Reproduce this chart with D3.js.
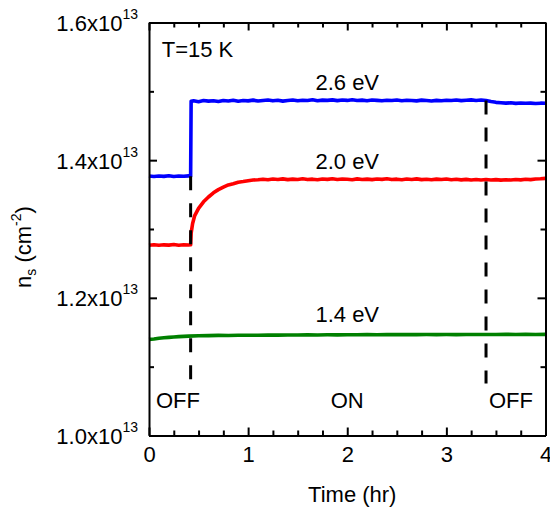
<!DOCTYPE html>
<html>
<head>
<meta charset="utf-8">
<script src="https://cdn.jsdelivr.net/npm/d3@7"></script>
<style>
  html, body { margin: 0; padding: 0; background: #fff; }
  svg { display: block; font-family: "Liberation Sans", Arial, sans-serif; }
</style>
</head>
<body>
<svg id="chart" width="550" height="508"></svg>
<script>
// Sheet carrier density n_s (units of 1e13 cm^-2) vs. illumination time, T = 15 K
const blue26 = [
  [0,1.3770],[0.05,1.3762],[0.1,1.3771],[0.15,1.3765],[0.2,1.3774],[0.25,1.3763],[0.3,1.3769],[0.35,1.3766],[0.4,1.3772],[0.42,1.3765],
  [0.425,1.4855],[0.45,1.4862],[0.5,1.4850],[0.55,1.4866],[0.6,1.4858],[0.65,1.4864],[0.7,1.4852],[0.75,1.4867],[0.8,1.4860],[0.85,1.4871],
  [0.9,1.4857],[0.95,1.4866],[1.0,1.4861],[1.05,1.4872],[1.1,1.4859],[1.15,1.4868],[1.2,1.4874],[1.25,1.4862],[1.3,1.4870],[1.35,1.4858],
  [1.4,1.4866],[1.45,1.4875],[1.5,1.4863],[1.55,1.4871],[1.6,1.4867],[1.65,1.4878],[1.7,1.4864],[1.75,1.4872],[1.8,1.4869],[1.85,1.4876],
  [1.9,1.4865],[1.95,1.4873],[2.0,1.4868],[2.05,1.4877],[2.1,1.4866],[2.15,1.4872],[2.2,1.4864],[2.25,1.4874],[2.3,1.4869],[2.35,1.4862],
  [2.4,1.4871],[2.45,1.4866],[2.5,1.4874],[2.55,1.4863],[2.6,1.4870],[2.65,1.4867],[2.7,1.4861],[2.75,1.4872],[2.8,1.4866],[2.85,1.4860],
  [2.9,1.4869],[2.95,1.4864],[3.0,1.4871],[3.05,1.4866],[3.1,1.4873],[3.15,1.4865],[3.2,1.4870],[3.25,1.4876],[3.3,1.4868],[3.35,1.4874],
  [3.4,1.4866],[3.45,1.4852],[3.5,1.4840],[3.55,1.4834],[3.6,1.4829],[3.65,1.4833],[3.7,1.4825],[3.75,1.4831],[3.8,1.4826],[3.85,1.4829],
  [3.9,1.4823],[3.95,1.4828],[4.0,1.4826]
];
const red20 = [
  [0,1.2765],[0.05,1.2772],[0.1,1.2763],[0.15,1.2770],[0.2,1.2766],[0.25,1.2774],[0.3,1.2764],[0.35,1.2771],[0.4,1.2767],[0.42,1.2770],
  [0.425,1.2940],[0.44,1.3080],[0.46,1.3190],[0.5,1.3300],[0.55,1.3395],[0.6,1.3465],[0.65,1.3525],[0.7,1.3572],[0.75,1.3608],[0.8,1.3640],
  [0.85,1.3658],[0.9,1.3680],[0.95,1.3690],[1.0,1.3702],[1.05,1.3712],[1.1,1.3716],[1.15,1.3724],[1.2,1.3715],[1.25,1.3726],[1.3,1.3719],
  [1.35,1.3728],[1.4,1.3717],[1.45,1.3725],[1.5,1.3720],[1.55,1.3729],[1.6,1.3718],[1.65,1.3724],[1.7,1.3716],[1.75,1.3727],[1.8,1.3721],
  [1.85,1.3730],[1.9,1.3719],[1.95,1.3726],[2.0,1.3722],[2.05,1.3716],[2.1,1.3728],[2.15,1.3720],[2.2,1.3725],[2.25,1.3717],[2.3,1.3727],
  [2.35,1.3721],[2.4,1.3729],[2.45,1.3718],[2.5,1.3724],[2.55,1.3716],[2.6,1.3726],[2.65,1.3720],[2.7,1.3728],[2.75,1.3717],[2.8,1.3723],
  [2.85,1.3715],[2.9,1.3725],[2.95,1.3719],[3.0,1.3726],[3.05,1.3716],[3.1,1.3722],[3.15,1.3714],[3.2,1.3721],[3.25,1.3713],[3.3,1.3719],
  [3.35,1.3711],[3.4,1.3718],[3.45,1.3712],[3.5,1.3717],[3.55,1.3710],[3.6,1.3716],[3.65,1.3712],[3.7,1.3719],[3.75,1.3714],[3.8,1.3722],
  [3.85,1.3717],[3.9,1.3726],[3.95,1.3729],[4.0,1.3735]
];
const green14 = [
  [0,1.1396],[0.05,1.1402],[0.1,1.1413],[0.15,1.1419],[0.2,1.1426],[0.25,1.1431],[0.3,1.1436],[0.35,1.1440],[0.4,1.1444],[0.5,1.1449],
  [0.6,1.1451],[0.7,1.1454],[0.8,1.1453],[0.9,1.1456],[1.0,1.1457],[1.1,1.1456],[1.2,1.1459],[1.3,1.1458],[1.4,1.1461],[1.5,1.1460],
  [1.6,1.1462],[1.7,1.1461],[1.8,1.1463],[1.9,1.1462],[2.0,1.1464],[2.1,1.1463],[2.2,1.1465],[2.3,1.1464],[2.4,1.1466],[2.5,1.1465],
  [2.6,1.1466],[2.7,1.1465],[2.8,1.1467],[2.9,1.1466],[3.0,1.1467],[3.1,1.1466],[3.2,1.1468],[3.3,1.1467],[3.4,1.1468],[3.5,1.1467],
  [3.6,1.1469],[3.7,1.1468],[3.8,1.1469],[3.9,1.1468],[4.0,1.1469]
];

const seriesNames = ["2.6 eV", "2.0 eV", "1.4 eV"];
const seriesColors = ["#0000ff", "#ff0000", "#008000"];
const seriesData = [blue26, red20, green14];

// Light switched on / off (hr) and the lower end of the marker lines
const switchTimes = [0.42, 3.4];
const switchBottom = [1.0785, 1.0755];
const stateLabels = [["OFF", 0.07], ["ON", 2.0], ["OFF", 3.43]];

const xTicks = [0, 1, 2, 3, 4];
const xMinorTicks = [0.25, 0.5, 0.75, 1.25, 1.5, 1.75, 2.25, 2.5, 2.75, 3.25, 3.5, 3.75];
const yTicks = [1.0, 1.2, 1.4, 1.6];
const yTickLabels = ["1.0x10", "1.2x10", "1.4x10", "1.6x10"];
const yMinorTicks = [1.1, 1.3, 1.5];

const W = 550, H = 508;
const margin = { top: 22.5, right: 4.5, bottom: 72.5, left: 149 };
const iw = W - margin.left - margin.right;
const ih = H - margin.top - margin.bottom;

const svg = d3.select("#chart");
const g = svg.append("g").attr("transform", `translate(${margin.left},${margin.top})`);

const x = d3.scaleLinear().domain([0, 4]).range([0, iw]);
const y = d3.scaleLinear().domain([1.0, 1.6]).range([ih, 0]);

const FS = 22;

// Data curves
const line = d3.line().x(d => x(d[0])).y(d => y(d[1]));
seriesData.forEach((s, i) => {
  g.append("path")
    .datum(s)
    .attr("fill", "none")
    .attr("stroke", seriesColors[i])
    .attr("stroke-width", 3.6)
    .attr("stroke-linejoin", "round")
    .attr("d", line);
});

// Series labels above each curve at t = 2 hr
const labelAt = 2.0;
seriesData.forEach((s, i) => {
  const v = s.find(d => d[0] >= labelAt)[1];
  g.append("text")
    .attr("x", x(labelAt))
    .attr("y", y(v) - (i === 2 ? 12.8 : 10.7))
    .attr("text-anchor", "middle")
    .attr("font-size", FS)
    .text(seriesNames[i]);
});

// Dashed on/off markers, hanging from the 2.6 eV curve
switchTimes.forEach((t, i) => {
  const top = blue26.filter(d => d[0] <= t).slice(-1)[0][1];
  g.append("line")
    .attr("x1", x(t)).attr("x2", x(t))
    .attr("y1", y(top)).attr("y2", y(switchBottom[i]))
    .attr("stroke", "#000")
    .attr("stroke-width", 3)
    .attr("stroke-dasharray", "14,13");
});

stateLabels.forEach(([txt, t]) => {
  g.append("text")
    .attr("x", x(t))
    .attr("y", 408.3 - margin.top)
    .attr("text-anchor", txt === "ON" ? "middle" : "start")
    .attr("font-size", FS)
    .text(txt);
});

// Axes: ticks point inward on all four sides
function styleAxis(sel) {
  sel.selectAll("path.domain").attr("stroke", "#000").attr("stroke-width", 2);
  sel.selectAll(".tick line").attr("stroke", "#000").attr("stroke-width", 2);
  sel.selectAll("text").attr("font-size", FS).attr("fill", "#000").attr("font-family", null);
}

const xb = g.append("g").attr("transform", `translate(0,${ih})`)
  .call(d3.axisBottom(x).tickValues(xTicks).tickSizeInner(-8).tickSizeOuter(0).tickPadding(10.5).tickFormat(d3.format("d")));
styleAxis(xb);
const xbm = g.append("g").attr("transform", `translate(0,${ih})`)
  .call(d3.axisBottom(x).tickValues(xMinorTicks).tickSizeInner(-5).tickSizeOuter(0).tickFormat(""));
styleAxis(xbm);
xbm.select("path.domain").remove();

const xt = g.append("g")
  .call(d3.axisTop(x).tickValues(xTicks).tickSizeInner(-8).tickSizeOuter(0).tickFormat(""));
styleAxis(xt);
const xtm = g.append("g")
  .call(d3.axisTop(x).tickValues(xMinorTicks).tickSizeInner(-5).tickSizeOuter(0).tickFormat(""));
styleAxis(xtm);
xtm.select("path.domain").remove();

const yl = g.append("g")
  .call(d3.axisLeft(y).tickValues(yTicks).tickSizeInner(-8).tickSizeOuter(0).tickFormat(""));
styleAxis(yl);
const ylm = g.append("g")
  .call(d3.axisLeft(y).tickValues(yMinorTicks).tickSizeInner(-5).tickSizeOuter(0).tickFormat(""));
styleAxis(ylm);
ylm.select("path.domain").remove();

const yr = g.append("g").attr("transform", `translate(${iw},0)`)
  .call(d3.axisRight(y).tickValues(yTicks).tickSizeInner(-8).tickSizeOuter(0).tickFormat(""));
styleAxis(yr);
const yrm = g.append("g").attr("transform", `translate(${iw},0)`)
  .call(d3.axisRight(y).tickValues(yMinorTicks).tickSizeInner(-5).tickSizeOuter(0).tickFormat(""));
styleAxis(yrm);
yrm.select("path.domain").remove();

// Y tick labels in scientific form with superscript exponent
yTicks.forEach((v, i) => {
  const t = g.append("text")
    .attr("x", -11)
    .attr("y", y(v) + 8.5)
    .attr("text-anchor", "end")
    .attr("font-size", FS);
  t.append("tspan").text(yTickLabels[i]);
  t.append("tspan").attr("dy", -12).attr("font-size", 14).text("13");
});

// Axis titles
svg.append("text")
  .attr("x", margin.left + iw / 2 + 5)
  .attr("y", 501.5)
  .attr("text-anchor", "middle")
  .attr("font-size", FS)
  .text("Time (hr)");

const yt = svg.append("text")
  .attr("transform", "translate(31,247) rotate(-90)")
  .attr("text-anchor", "middle")
  .attr("font-size", FS);
yt.append("tspan").text("n");
yt.append("tspan").attr("dy", 5).attr("font-size", 14).text("s");
yt.append("tspan").attr("dy", -5).text(" (cm");
yt.append("tspan").attr("dy", -10).attr("font-size", 14).text("-2");
yt.append("tspan").attr("dy", 10).text(")");

// Temperature note
g.append("text")
  .attr("x", 161.7 - margin.left)
  .attr("y", 57.3 - margin.top)
  .attr("font-size", FS)
  .text("T=15 K");
</script>
</body>
</html>
